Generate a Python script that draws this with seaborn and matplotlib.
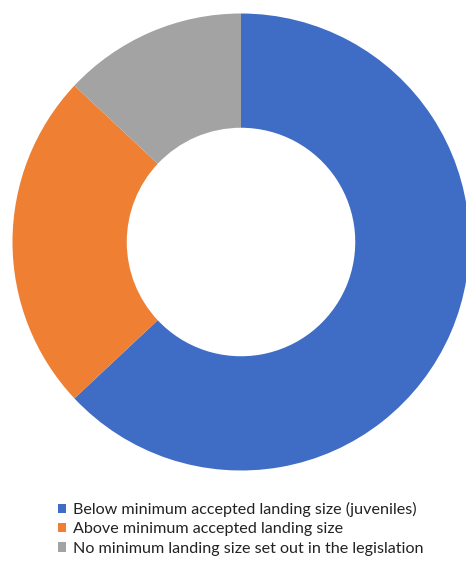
import matplotlib.pyplot as plt
import seaborn as sns
from matplotlib.patches import Patch

# dados =======================================================================
categorias = ['Below minimum accepted landing size (juveniles)',
              'Above minimum accepted landing size',
              'No minimum landing size set out in the legislation']
valores = [63, 24, 13]
cores = ['#3F6CC4', '#EE7F33', '#A3A3A3']

sns.set_theme(style='white')
plt.rcParams['font.family'] = ['Lato', 'DejaVu Sans']

fig = plt.figure(figsize=(4.66, 5.70), dpi=100)
W, H = 466, 570
cx, cy, r = 241, 242, 228.5
ax = fig.add_axes([(cx - r) / W, (H - cy - r) / H, 2 * r / W, 2 * r / H])

ax.pie(valores, colors=cores, startangle=90, counterclock=False, radius=1,
       wedgeprops=dict(width=0.5, edgecolor='none'))
ax.set_xlim(-1, 1)
ax.set_ylim(-1, 1)
ax.set_aspect('auto')
ax.axis('off')

# legenda =====================================================================
handles = [Patch(facecolor=c, edgecolor='none') for c in cores]
leg = fig.legend(handles, categorias, loc='upper left',
                 bbox_to_anchor=(50 / W, 1 - 494 / H), frameon=False,
                 fontsize=11.6, handlelength=0.5, handleheight=0.5,
                 handletextpad=0.4, labelspacing=0.33, borderpad=0)
for t in leg.get_texts():
    t.set_color('#222222')

fig.savefig('out.png', dpi=100)
